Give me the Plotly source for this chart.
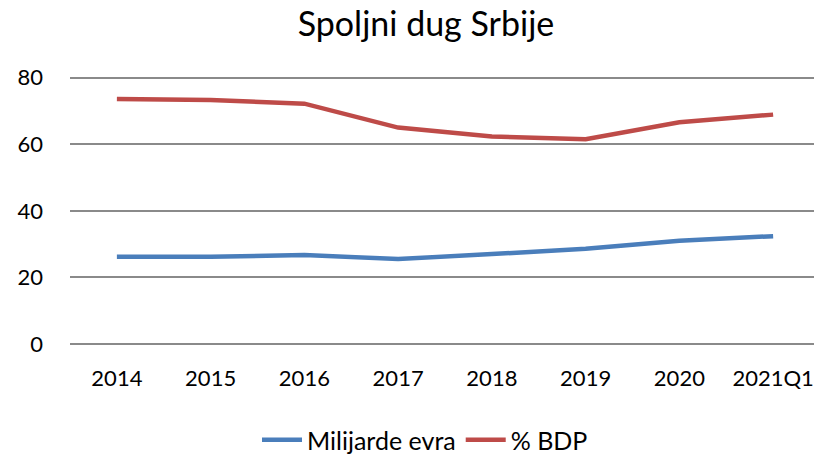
import plotly.graph_objects as go

categories = ["2014", "2015", "2016", "2017", "2018", "2019", "2020", "2021Q1"]
milijarde_evra = [26.2, 26.2, 26.7, 25.5, 27.0, 28.6, 31.0, 32.4]
pct_bdp = [73.6, 73.3, 72.2, 65.0, 62.3, 61.5, 66.6, 68.9]
y_ticks = [0, 20, 40, 60, 80]

FONT = "Lato, Open Sans, sans-serif"
W, H = 814, 446

fig = go.Figure()
fig.add_trace(go.Scatter(x=categories, y=milijarde_evra, mode="lines", name="Milijarde evra",
                         line=dict(color="#4a7ebb", width=4.5)))
fig.add_trace(go.Scatter(x=categories, y=pct_bdp, mode="lines", name="% BDP",
                         line=dict(color="#be4b48", width=4.5)))

fig.update_layout(
    width=W, height=H,
    margin=dict(l=62, r=2, t=68, b=110),
    paper_bgcolor="white", plot_bgcolor="white",
    font=dict(family=FONT, color="#000000", size=22),
    title=dict(text="Spoljni dug Srbije", x=418 / W, xanchor="center", y=1 - 4 / H, yanchor="top",
               pad=dict(t=0, b=0), font=dict(size=34, family=FONT, color="#000000")),
    showlegend=True,
    legend=dict(orientation="h", x=417 / W, xanchor="center", xref="container",
                y=1 - 432 / H, yanchor="middle", yref="container",
                font=dict(size=25), itemwidth=40),
)
fig.update_xaxes(type="category", range=[-0.5, 7.5], showgrid=False, showline=False,
                 ticks="", ticklabelstandoff=19, tickfont=dict(size=22))
fig.update_yaxes(range=[0, 80.5], tickvals=y_ticks, showgrid=True, gridcolor="#8a8a8a", gridwidth=1.5,
                 zeroline=True, zerolinecolor="#8a8a8a", zerolinewidth=2, showline=False,
                 ticks="", ticklabelstandoff=26, tickfont=dict(size=22))

fig.write_html("out.html")
